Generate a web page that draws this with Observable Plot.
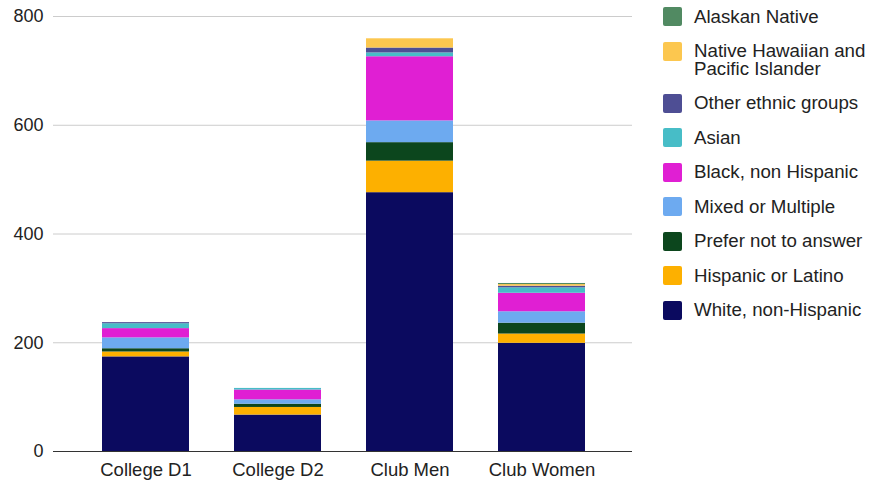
<!DOCTYPE html>
<html>
<head>
<meta charset="utf-8">
<script src="https://cdn.jsdelivr.net/npm/d3@7"></script>
<script src="https://cdn.jsdelivr.net/npm/@observablehq/plot@0.6"></script>
<style>
  html, body { margin: 0; padding: 0; background: #fff; }
  body { width: 882px; height: 482px; position: relative; overflow: hidden;
         font-family: "Liberation Sans", Arial, Helvetica, sans-serif; }
  #chart { position: absolute; left: 0; top: 0; }
  #legend { position: absolute; left: 663px; top: 7.2px; display: flex; flex-direction: column; gap: 15.5px; }
  .item { display: flex; align-items: flex-start; }
  .sw { width: 19px; height: 19px; border-radius: 2px; flex: none; margin-right: 12px; }
  .lab { font-size: 18.7px; line-height: 18px; color: #222; width: 185px; padding-top: 0.5px; }
</style>
</head>
<body>
<div id="chart"></div>
<div id="legend"></div>
<script>
const categories = ["College D1", "College D2", "Club Men", "Club Women"];

// series, bottom to top of the stack
const white    = [174, 67, 476, 199];
const hispanic = [9, 14, 58, 17];
const prefer   = [6, 6, 34, 20];
const mixed    = [20, 8, 40, 21];
const black    = [17, 18, 118, 34];
const asian    = [9, 3, 7, 10];
const other    = [2, 0, 9, 3];
const nhpi     = [0, 0, 17, 3];
const alaskan  = [0, 0, 0, 2];

const seriesNames = [
  "White, non-Hispanic", "Hispanic or Latino", "Prefer not to answer",
  "Mixed or Multiple", "Black, non Hispanic", "Asian",
  "Other ethnic groups", "Native Hawaiian and Pacific Islander", "Alaskan Native"
];
const seriesValues = [white, hispanic, prefer, mixed, black, asian, other, nhpi, alaskan];
const seriesColors = [
  "#0b0a5f", "#fdb000", "#0c461d", "#6daaf0", "#e01fd3",
  "#47bdc7", "#4e4e94", "#fcc74f", "#518a62"
];
const yTicks = [0, 200, 400, 600, 800];

const data = [];
seriesNames.forEach((s, i) => {
  categories.forEach((c, j) => {
    data.push({category: c, series: s, value: seriesValues[i][j]});
  });
});

const chart = Plot.plot({
  width: 640,
  height: 482,
  marginTop: 16,
  marginBottom: 31,
  marginLeft: 53,
  marginRight: 8,
  style: {fontFamily: '"Liberation Sans", Arial, sans-serif', fontSize: "18px", color: "#222", background: "transparent"},
  x: {domain: categories, range: [54.6, 631.9], paddingInner: 0.343, paddingOuter: 0.35, label: null},
  y: {domain: [0, 800], label: null},
  color: {domain: seriesNames, range: seriesColors},
  marks: [
    Plot.ruleY(yTicks.filter(d => d > 0), {stroke: "#cccccc", strokeWidth: 1}),
    Plot.barY(data, {x: "category", y: "value", fill: "series", order: seriesNames}),
    Plot.ruleY([0], {stroke: "#333", strokeWidth: 1}),
    Plot.axisY({ticks: yTicks, tickSize: 0, tickPadding: 10, label: null, fontSize: 18, fill: "#222"}),
    Plot.axisX({tickSize: 0, tickPadding: 11, label: null, fontSize: 18.5, fill: "#222"})
  ]
});
document.getElementById("chart").appendChild(chart);

const legend = document.getElementById("legend");
const legendOrder = seriesNames.map((n, i) => i).reverse();
legendOrder.forEach(i => {
  const item = document.createElement("div");
  item.className = "item";
  const sw = document.createElement("div");
  sw.className = "sw";
  sw.style.background = seriesColors[i];
  const lab = document.createElement("div");
  lab.className = "lab";
  lab.textContent = seriesNames[i];
  item.appendChild(sw);
  item.appendChild(lab);
  legend.appendChild(item);
});
</script>
</body>
</html>
